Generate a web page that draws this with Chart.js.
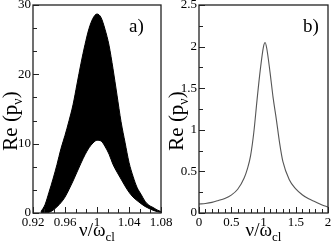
<!DOCTYPE html>
<html><head><meta charset="utf-8">
<script src="https://cdn.jsdelivr.net/npm/chart.js@4/dist/chart.umd.min.js"></script>
<style>
html,body{margin:0;padding:0;background:#fff;}
#wrap{position:relative;width:332px;height:246px;overflow:hidden;}
canvas{position:absolute;left:0;top:0;}
</style></head><body>
<div id="wrap"><canvas id="ca" width="332" height="246"></canvas><canvas id="cb" width="332" height="246"></canvas></div>
<script>
// ---- panel a data ----
const xA = [0.93,0.935,0.94,0.945,0.95,0.955,0.96,0.965,0.97,0.975,0.98,0.985,0.99,0.995,1.0,1.005,1.01,1.015,1.02,1.025,1.03,1.035,1.04,1.045,1.05,1.055,1.06,1.065,1.07,1.075,1.08];
const upperA = [0.2,1.2,3.0,4.9,7.0,9.3,11.2,13.3,15.6,18.6,21.6,24.3,26.6,28.1,28.7,28.2,26.5,24.2,20.8,17.0,13.2,10.2,7.3,5.3,3.7,2.7,1.7,1.1,0.8,0.45,0.2];
const lowerA = [0,0,0.1,0.4,0.9,1.5,2.3,3.4,4.6,5.9,7.2,8.4,9.4,10.1,10.5,10.4,9.6,8.5,7.0,5.9,4.9,3.9,3.0,2.3,1.8,1.35,0.95,0.65,0.4,0.2,0.1];
const xTicksA = [0.92,0.96,1,1.04,1.08];
const yTicksA = [0,10,20,30];
// ---- panel b data ----
const xB = [0,0.1,0.2,0.3,0.4,0.5,0.6,0.7,0.75,0.8,0.85,0.9,0.95,1.0,1.025,1.05,1.1,1.15,1.2,1.25,1.3,1.4,1.5,1.6,1.7,1.8,1.9,2.0];
const yB = [0.108,0.115,0.128,0.15,0.175,0.215,0.285,0.42,0.53,0.69,0.97,1.36,1.72,2.00,2.05,1.98,1.70,1.38,1.12,0.84,0.62,0.40,0.29,0.22,0.17,0.136,0.10,0.072];
const xTicksB = [0,0.5,1,1.5,2];
const yTicksB = [0,0.5,1,1.5,2,2.5];

const FONT = "'Liberation Serif','DejaVu Serif',serif";

function minorList(majors, sub){
  const out=[];
  for(let i=0;i<majors.length-1;i++){
    const a=majors[i], b=majors[i+1];
    for(let k=1;k<=sub;k++) out.push(a+(b-a)*k/(sub+1));
  }
  return out;
}

function drawParts(ctx, parts, main, subSize, subDy){
  let w=0;
  parts.forEach(p=>{ctx.font=(p.sub?subSize:main)+'px '+FONT; p.w=ctx.measureText(p.t).width; w+=p.w;});
  let x=-w/2;
  parts.forEach(p=>{ctx.font=(p.sub?subSize:main)+'px '+FONT; ctx.fillText(p.t,x,p.sub?subDy:0); x+=p.w;});
}

function framePlugin(cfg){
  return {
    id:'frame'+cfg.label,
    afterDraw(chart){
      const ctx=chart.ctx, a=chart.chartArea, sx=chart.scales.x, sy=chart.scales.y;
      ctx.save();
      ctx.strokeStyle='#222'; ctx.lineWidth=1.3;
      ctx.strokeRect(a.left, a.top, a.right-a.left, a.bottom-a.top);
      ctx.lineWidth=1;
      const tick=(vals,len,isX)=>{
        vals.forEach(v=>{
          ctx.beginPath();
          if(isX){const p=Math.round(sx.getPixelForValue(v))+0.5; ctx.moveTo(p,a.bottom); ctx.lineTo(p,a.bottom-len);}
          else {const p=Math.round(sy.getPixelForValue(v))+0.5; ctx.moveTo(a.left,p); ctx.lineTo(a.left+len,p);}
          ctx.stroke();
        });
      };
      tick(cfg.xMaj,6,true); tick(minorList(cfg.xMaj,cfg.xSub),4,true);
      tick(cfg.yMaj,6,false); tick(minorList(cfg.yMaj,cfg.ySub),4,false);
      ctx.fillStyle='#000'; ctx.textBaseline='alphabetic'; ctx.textAlign='left';
      // panel label
      ctx.font='19px '+FONT;
      ctx.fillText(cfg.label, cfg.labelX, 32);
      // x title
      ctx.save(); ctx.translate((a.left+a.right)/2, 236);
      drawParts(ctx,[{t:'ν/ω'},{t:'cl',sub:true}],19,13,5);
      ctx.restore();
      // y title
      ctx.save(); ctx.translate(cfg.yTitleX, 121); ctx.rotate(-Math.PI/2);
      drawParts(ctx,[{t:'Re (p'},{t:'ν',sub:true},{t:')'}],21,14,5);
      ctx.restore();
      ctx.restore();
    }
  };
}

function axes(xmin,xmax,xMaj,ymin,ymax,yMaj){
  const tickFont={family:FONT,size:13};
  return {
    x:{type:'linear',min:xmin,max:xmax,
      afterBuildTicks:s=>{s.ticks=xMaj.map(v=>({value:v}));},
      ticks:{font:tickFont,color:'#000',padding:2,maxRotation:0,autoSkip:false,callback:v=>String(v)},
      grid:{display:false,drawTicks:false},border:{display:false},
      afterFit:s=>{s.height=33;s.paddingLeft=0;s.paddingRight=0;}},
    y:{type:'linear',min:ymin,max:ymax,
      afterBuildTicks:s=>{s.ticks=yMaj.map(v=>({value:v}));},
      ticks:{font:tickFont,color:'#000',padding:2,autoSkip:false,callback:v=>String(v)},
      grid:{display:false,drawTicks:false},border:{display:false},
      afterFit:s=>{s.width=33;s.paddingTop=0;s.paddingBottom=0;}}
  };
}

new Chart(document.getElementById('ca'),{
  type:'line',
  data:{datasets:[
    {data:xA.map((x,i)=>({x,y:upperA[i]})),borderColor:'#000',borderWidth:1,backgroundColor:'#000',fill:'+1',pointRadius:0,cubicInterpolationMode:'monotone'},
    {data:xA.map((x,i)=>({x,y:lowerA[i]})),borderColor:'#000',borderWidth:1,pointRadius:0,fill:false,cubicInterpolationMode:'monotone'}
  ]},
  options:{responsive:false,animation:false,
    layout:{padding:{left:0,right:171,top:5,bottom:0}},
    plugins:{legend:{display:false},tooltip:{enabled:false}},
    scales:axes(0.92,1.08,xTicksA,0,30,yTicksA)},
  plugins:[framePlugin({label:'a)',labelX:129,yTitleX:17,xMaj:xTicksA,xSub:2,yMaj:yTicksA,ySub:2})]
});

new Chart(document.getElementById('cb'),{
  type:'line',
  data:{datasets:[
    {data:xB.map((x,i)=>({x,y:yB[i]})),borderColor:'#555',borderWidth:1.1,pointRadius:0,fill:false,cubicInterpolationMode:'monotone'}
  ]},
  options:{responsive:false,animation:false,
    layout:{padding:{left:166,right:4,top:5,bottom:0}},
    plugins:{legend:{display:false},tooltip:{enabled:false}},
    scales:axes(0,2,xTicksB,0,2.5,yTicksB)},
  plugins:[framePlugin({label:'b)',labelX:303,yTitleX:183,xMaj:xTicksB,xSub:4,yMaj:yTicksB,ySub:1})]
});
</script>
</body></html>
